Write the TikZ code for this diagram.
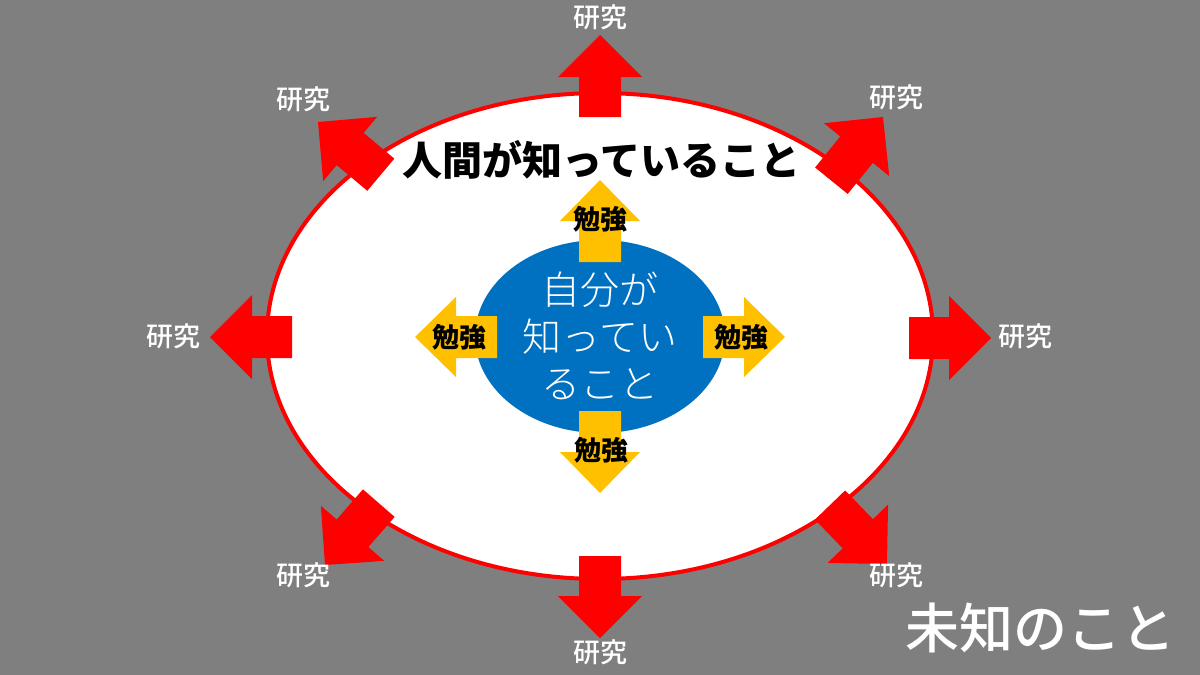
\documentclass[tikz,border=0pt]{standalone}
\usepackage{fontspec}
\usetikzlibrary{shapes.geometric}
\newfontfamily\jp{Noto Sans CJK JP}
\newfontfamily\jplight{Noto Sans CJK JP Light}
\newfontfamily\jpmed{Noto Sans CJK JP Medium}
\definecolor{bggray}{RGB}{127,127,127}
\definecolor{kred}{RGB}{255,0,0}
\definecolor{kblue}{RGB}{0,112,192}
\definecolor{kyellow}{RGB}{255,192,0}
\tikzset{
  redarrow/.pic={\fill[kred] (0,0) -- (-42,42) -- (-42,21) -- (-82,21) -- (-82,-21) -- (-42,-21) -- (-42,-42) -- cycle;},
  yelarrow/.pic={\fill[kyellow] (0,0) -- (-41,40) -- (-41,21) -- (-82,21) -- (-82,-21) -- (-41,-21) -- (-41,-40) -- cycle;},
  kenkyu/.style={font=\jpmed\fontsize{27}{30}\selectfont, text=white, inner sep=0pt},
  benkyo/.style={font=\jp\bfseries\fontsize{27}{30}\selectfont, text=black, inner sep=0pt},
}
\begin{document}
\begin{tikzpicture}[x=1pt,y=-1pt]
  \fill[bggray] (0,0) rectangle (1200,675);
  \useasboundingbox (0,0) rectangle (1200,675);
  % human knowledge ellipse
  \node[ellipse, draw=kred, line width=4pt, fill=white, minimum width=666pt, minimum height=486pt, inner sep=0pt] (human) at (600,336) {};
  % research arrows
  \pic[rotate=90]  at (600,35)  {redarrow};
  \pic[rotate=270] at (600,638) {redarrow};
  \pic[rotate=180] at (210,337) {redarrow};
  \pic[rotate=0]   at (991,338) {redarrow};
  \pic[rotate=140] at (318,122) {redarrow};
  \pic[rotate=51]  at (883,117) {redarrow};
  \pic[rotate=229] at (325,565) {redarrow};
  \pic[rotate=314] at (887,564) {redarrow};
  % self knowledge ellipse
  \node[ellipse, fill=kblue, minimum width=250pt, minimum height=193pt, inner sep=0pt] (self) at (600,336.5) {};
  % study arrows
  \pic[rotate=90]  at (600,180) {yelarrow};
  \pic[rotate=270] at (600,493) {yelarrow};
  \pic[rotate=180] at (415,337) {yelarrow};
  \pic[rotate=0]   at (785,337) {yelarrow};
  % texts
  \node[font=\jp\bfseries\fontsize{40}{44}\selectfont, text=black, inner sep=0pt] (humantext) at (601,160) {人間が知っていること};
  \node[font=\jplight\fontsize{39}{47}\selectfont, text=white, align=center, inner sep=0pt] (selftext) at (600,336) {自分が\\知ってい\\ること};
  \node[benkyo] (b1) at (600,219) {勉強};
  \node[benkyo] (b2) at (459,337) {勉強};
  \node[benkyo] (b3) at (741,337) {勉強};
  \node[benkyo] (b4) at (601,450) {勉強};
  \node[kenkyu] (k1) at (600,17)  {研究};
  \node[kenkyu] (k2) at (303,99)  {研究};
  \node[kenkyu] (k3) at (896,97)  {研究};
  \node[kenkyu] (k4) at (173,336) {研究};
  \node[kenkyu] (k5) at (1025,336) {研究};
  \node[kenkyu] (k6) at (303,575) {研究};
  \node[kenkyu] (k7) at (896,575) {研究};
  \node[kenkyu] (k8) at (600,652) {研究};
  \node[font=\jpmed\fontsize{54}{60}\selectfont, text=white, inner sep=0pt] (unknown) at (1040,628) {未知のこと};
\end{tikzpicture}
\end{document}
